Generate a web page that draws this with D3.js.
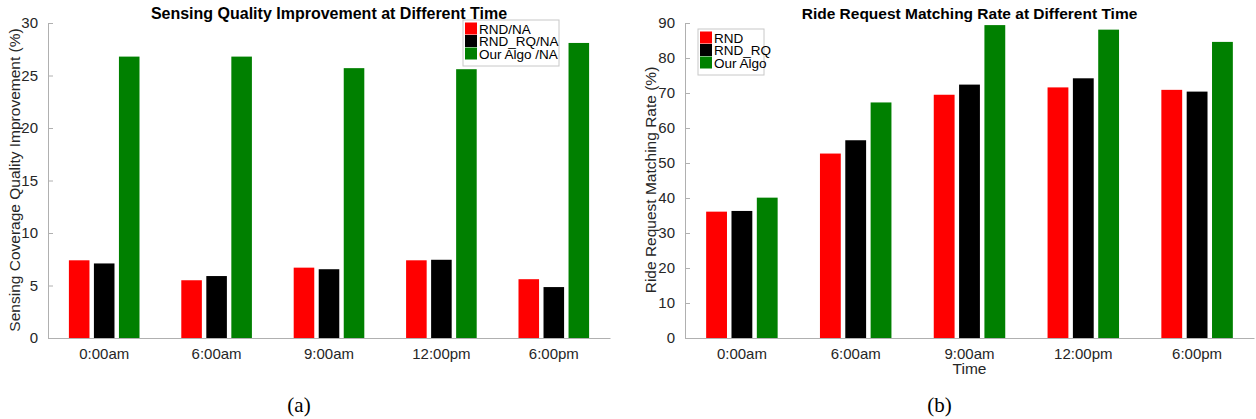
<!DOCTYPE html>
<html lang="en">
<head>
  <meta charset="UTF-8">
  <title>Sensing quality and ride matching</title>
  <script src="https://d3js.org/d3.v7.min.js"></script>
  <style>
    body { margin: 0; background: white; font-family: "Liberation Sans", Arial, Helvetica, sans-serif; }
    .tick text { fill: #262626; }
  </style>
</head>
<body>
<div id="chart"></div>
<script>
// categories and series
var times = ["0:00am", "6:00am", "9:00am", "12:00pm", "6:00pm"];

// (a) sensing coverage quality improvement (%)
var rndNA = [7.4, 5.5, 6.7, 7.4, 5.6];
var rndRqNA = [7.1, 5.9, 6.55, 7.45, 4.85];
var algoNA = [26.8, 26.8, 25.7, 25.6, 28.1];
var ticksA = [0, 5, 10, 15, 20, 25, 30];

// (b) ride request matching rate (%)
var rnd = [36.1, 52.7, 69.5, 71.6, 70.9];
var rndRq = [36.3, 56.5, 72.4, 74.2, 70.4];
var algo = [40.1, 67.3, 89.4, 88.1, 84.6];
var ticksB = [0, 10, 20, 30, 40, 50, 60, 70, 80, 90];

var colours = ["#ff0000", "#000000", "#008000"];

var svg = d3.select("#chart").append("svg")
  .attr("width", 1256)
  .attr("height", 419);

// draw one grouped bar panel
function panel(opt) {
  var x = d3.scaleBand().domain(times).range([opt.left, opt.right]);
  var y = d3.scaleLinear().domain([0, opt.max]).range([338, 23]);
  var step = x.bandwidth();
  var barW = step * 0.183;
  var offsets = [-0.2226, 0, 0.2226];

  var g = svg.append("g");

  opt.series.forEach(function(vals, s) {
    g.selectAll(null)
      .data(vals)
      .enter()
      .append("rect")
        .attr("x", function(d, i) { return x(times[i]) + step / 2 + offsets[s] * step - barW / 2; })
        .attr("y", function(d) { return y(d); })
        .attr("width", barW)
        .attr("height", function(d) { return y(0) - y(d); })
        .attr("fill", colours[s]);
  });

  // y axis, ticks pointing inward
  var yAxis = d3.axisLeft(y).tickValues(opt.ticks).tickSizeInner(-5).tickSizeOuter(0).tickPadding(10);
  var ya = g.append("g")
    .attr("transform", "translate(" + opt.left + ",0)")
    .call(yAxis);
  ya.selectAll("text").attr("font-size", "15px").attr("font-family", "Liberation Sans, Arial, sans-serif");
  ya.selectAll("line, path").attr("stroke", "#b0b0b0");

  var xAxis = d3.axisBottom(x).tickSize(0).tickPadding(10);
  var xa = g.append("g")
    .attr("transform", "translate(0,338)")
    .call(xAxis);
  xa.selectAll("text").attr("font-size", "15px").attr("font-family", "Liberation Sans, Arial, sans-serif");
  xa.select("path").attr("stroke", "#b0b0b0");

  // title
  g.append("text")
    .attr("x", (opt.left + opt.right) / 2)
    .attr("y", 19)
    .attr("text-anchor", "middle")
    .attr("font-size", opt.titleSize)
    .attr("font-weight", "bold")
    .attr("fill", "#000")
    .text(opt.title);

  // y label
  g.append("text")
    .attr("transform", "translate(" + opt.ylabelX + "," + 180 + ") rotate(-90)")
    .attr("text-anchor", "middle")
    .attr("font-size", "15.5px")
    .attr("fill", "#262626")
    .text(opt.ylabel);

  if (opt.xlabel) {
    g.append("text")
      .attr("x", (opt.left + opt.right) / 2)
      .attr("y", 374)
      .attr("text-anchor", "middle")
      .attr("font-size", "15.5px")
      .attr("fill", "#262626")
      .text(opt.xlabel);
  }

  // legend
  var lg = g.append("g").attr("transform", "translate(" + opt.legX + "," + opt.legY + ")");
  lg.append("rect")
    .attr("width", opt.legW)
    .attr("height", 46)
    .attr("fill", "white")
    .attr("stroke", "#c8c8c8");
  opt.names.forEach(function(n, i) {
    lg.append("rect")
      .attr("x", 2).attr("y", 2.5 + i * 12.5)
      .attr("width", 12).attr("height", 12)
      .attr("fill", colours[i]);
    lg.append("text")
      .attr("x", 16).attr("y", 13.5 + i * 12.5)
      .attr("font-size", "13.5px")
      .attr("fill", "#000")
      .text(n);
  });

  // caption
  g.append("text")
    .attr("x", (opt.left + opt.right) / 2 - 30)
    .attr("y", 412)
    .attr("text-anchor", "middle")
    .attr("font-size", "21px")
    .attr("font-family", "Liberation Serif, DejaVu Serif, serif")
    .attr("fill", "#000")
    .text(opt.caption);
}

panel({
  left: 48, right: 610, max: 30, ticks: ticksA,
  series: [rndNA, rndRqNA, algoNA],
  names: ["RND/NA", "RND_RQ/NA", "Our Algo /NA"],
  title: "Sensing Quality Improvement at Different Time",
  titleSize: "16px",
  ylabel: "Sensing Coverage Quality Improvement (%)",
  ylabelX: 20,
  legX: 463, legY: 20, legW: 96,
  caption: "(a)"
});

panel({
  left: 685, right: 1254, max: 90, ticks: ticksB,
  series: [rnd, rndRq, algo],
  names: ["RND", "RND_RQ", "Our Algo"],
  title: "Ride Request Matching Rate at Different Time",
  titleSize: "15.5px",
  ylabel: "Ride Request Matching Rate (%)",
  ylabelX: 656,
  xlabel: "Time",
  legX: 698, legY: 29, legW: 66,
  caption: "(b)"
});
</script>
</body>
</html>
